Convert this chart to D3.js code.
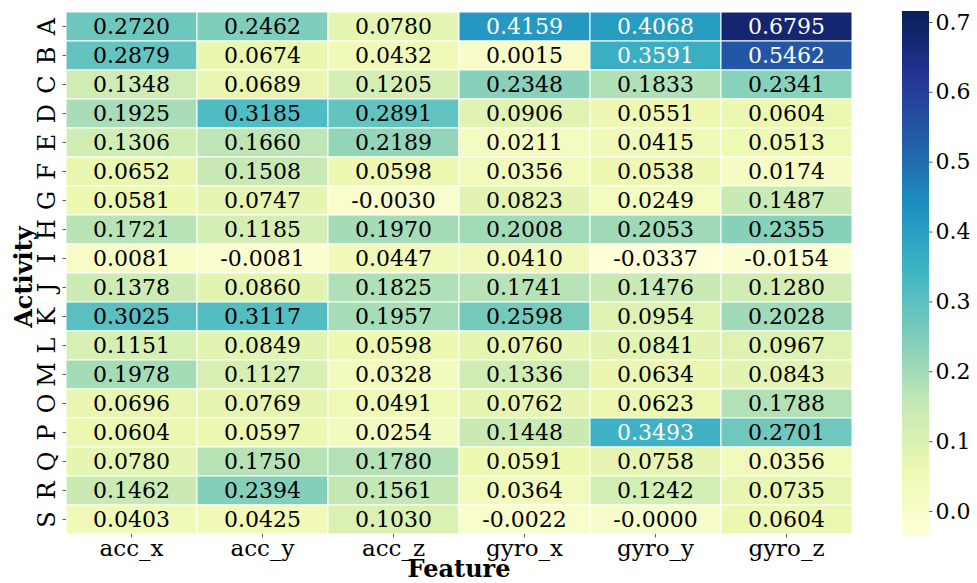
<!DOCTYPE html>
<html>
<head>
<meta charset="utf-8">
<script src="https://cdn.jsdelivr.net/npm/d3@7"></script>
<style>
  html, body { margin: 0; padding: 0; background: #fff; }
  svg { display: block; }
  text { font-family: "DejaVu Serif", "Liberation Serif", serif; fill: #000; }
</style>
</head>
<body>
<svg id="chart" width="977" height="583"></svg>
<script>
// Activities (rows) and sensor features (columns)
const activities = ["A","B","C","D","E","F","G","H","I","J","K","L","M","O","P","Q","R","S"];
const features = ["acc_x","acc_y","acc_z","gyro_x","gyro_y","gyro_z"];

// Correlation values, one array per feature column (rows follow `activities`)
const accX  = [0.2720,0.2879,0.1348,0.1925,0.1306,0.0652,0.0581,0.1721,0.0081,0.1378,0.3025,0.1151,0.1978,0.0696,0.0604,0.0780,0.1462,0.0403];
const accY  = [0.2462,0.0674,0.0689,0.3185,0.1660,0.1508,0.0747,0.1185,-0.0081,0.0860,0.3117,0.0849,0.1127,0.0769,0.0597,0.1750,0.2394,0.0425];
const accZ  = [0.0780,0.0432,0.1205,0.2891,0.2189,0.0598,-0.0030,0.1970,0.0447,0.1825,0.1957,0.0598,0.0328,0.0491,0.0254,0.1780,0.1561,0.1030];
const gyroX = [0.4159,0.0015,0.2348,0.0906,0.0211,0.0356,0.0823,0.2008,0.0410,0.1741,0.2598,0.0760,0.1336,0.0762,0.1448,0.0591,0.0364,-0.0022];
const gyroY = [0.4068,0.3591,0.1833,0.0551,0.0415,0.0538,0.0249,0.2053,-0.0337,0.1476,0.0954,0.0841,0.0634,0.0623,0.3493,0.0758,0.1242,-0.00001];
const gyroZ = [0.6795,0.5462,0.2341,0.0604,0.0513,0.0174,0.1487,0.2355,-0.0154,0.1280,0.2028,0.0967,0.0843,0.1788,0.2701,0.0356,0.0735,0.0604];

const colorTicks = [0.0,0.1,0.2,0.3,0.4,0.5,0.6,0.7];
const colorDomain = [-0.0351, 0.7157];

const columns = [accX, accY, accZ, gyroX, gyroY, gyroZ];
const cells = [];
activities.forEach((a, i) => {
  features.forEach((f, j) => cells.push({ row: a, col: f, value: columns[j][i] }));
});

// YlGnBu, linear through the nine ColorBrewer anchors
const ylgnbu = ["#ffffd9","#edf8b1","#c7e9b4","#7fcdbb","#41b6c4","#1d91c0","#225ea8","#253494","#081d58"];
const interp = d3.piecewise(d3.interpolateRgb, ylgnbu);
const color = d3.scaleSequential(interp).domain(colorDomain);

function luminance(c) {
  const rgb = d3.rgb(c);
  const lin = v => { v /= 255; return v <= 0.03928 ? v / 12.92 : Math.pow((v + 0.055) / 1.055, 2.4); };
  return 0.2126 * lin(rgb.r) + 0.7152 * lin(rgb.g) + 0.0722 * lin(rgb.b);
}

const svg = d3.select("#chart");
const plotL = 66, plotR = 852, plotT = 12, plotB = 534;

const x = d3.scaleBand().domain(features).range([plotL, plotR]);
const y = d3.scaleBand().domain(activities).range([plotT, plotB]);

// Cells
svg.append("g").selectAll("rect").data(cells).join("rect")
  .attr("x", d => x(d.col))
  .attr("y", d => y(d.row))
  .attr("width", x.bandwidth())
  .attr("height", y.bandwidth())
  .attr("fill", d => color(d.value))
  .attr("stroke", "#fff")
  .attr("stroke-width", 1);

// Annotations
svg.append("g").selectAll("text").data(cells).join("text")
  .attr("x", d => x(d.col) + x.bandwidth() / 2)
  .attr("y", d => y(d.row) + y.bandwidth() / 2)
  .attr("text-anchor", "middle")
  .attr("dominant-baseline", "central")
  .style("font-size", "22px")
  .style("fill", d => luminance(color(d.value)) > 0.408 ? "#000" : "#fff")
  .text(d => d.value.toFixed(4));

// X axis
const xAxis = svg.append("g").attr("transform", `translate(0,${plotB})`)
  .call(d3.axisBottom(x).tickSize(3.5).tickPadding(3));
xAxis.select(".domain").remove();
xAxis.selectAll("line").attr("stroke", "#333").attr("stroke-width", 0.8);
xAxis.selectAll("text").style("font-size", "23px").style("font-family", "DejaVu Serif").attr("dy", "0.68em");

// Y axis with rotated labels
const yAxis = svg.append("g").attr("transform", `translate(${plotL},0)`)
  .call(d3.axisLeft(y).tickSize(3.5).tickFormat(""));
yAxis.select(".domain").remove();
yAxis.selectAll("line").attr("stroke", "#333").attr("stroke-width", 0.8);
svg.append("g").selectAll("text").data(activities).join("text")
  .attr("transform", d => `translate(55,${y(d) + y.bandwidth() / 2}) rotate(-90)`)
  .attr("text-anchor", "middle")
  .style("font-size", "24px")
  .text(d => d);

// Axis titles
svg.append("text")
  .attr("transform", `translate(32,${(plotT + plotB) / 2 + 4}) rotate(-90)`)
  .attr("text-anchor", "middle")
  .style("font-size", "24px").style("font-weight", "bold")
  .text("Activity");
svg.append("text")
  .attr("x", (plotL + plotR) / 2).attr("y", 577)
  .attr("text-anchor", "middle")
  .style("font-size", "24px").style("font-weight", "bold")
  .text("Feature");

// Colorbar
const cbX = 902, cbW = 27, cbTop = 11, cbBottom = 535.5;
const cbScale = d3.scaleLinear().domain(colorDomain).range([cbBottom, cbTop]);
const defs = svg.append("defs");
const grad = defs.append("linearGradient").attr("id", "cbgrad")
  .attr("x1", 0).attr("y1", 1).attr("x2", 0).attr("y2", 0);
d3.range(0, 1.0001, 0.02).forEach(t => {
  grad.append("stop").attr("offset", t)
    .attr("stop-color", color(colorDomain[0] + t * (colorDomain[1] - colorDomain[0])));
});
svg.append("rect")
  .attr("x", cbX).attr("y", cbTop)
  .attr("width", cbW).attr("height", cbBottom - cbTop)
  .attr("fill", "url(#cbgrad)");
const cbAxis = svg.append("g").attr("transform", `translate(${cbX + cbW},0)`)
  .call(d3.axisRight(cbScale).tickValues(colorTicks).tickFormat(d3.format(".1f")).tickSize(3.5).tickPadding(3));
cbAxis.select(".domain").remove();
cbAxis.selectAll("line").attr("stroke", "#333").attr("stroke-width", 0.8);
cbAxis.selectAll("text").style("font-size", "22px").style("font-family", "DejaVu Serif");
</script>
</body>
</html>
